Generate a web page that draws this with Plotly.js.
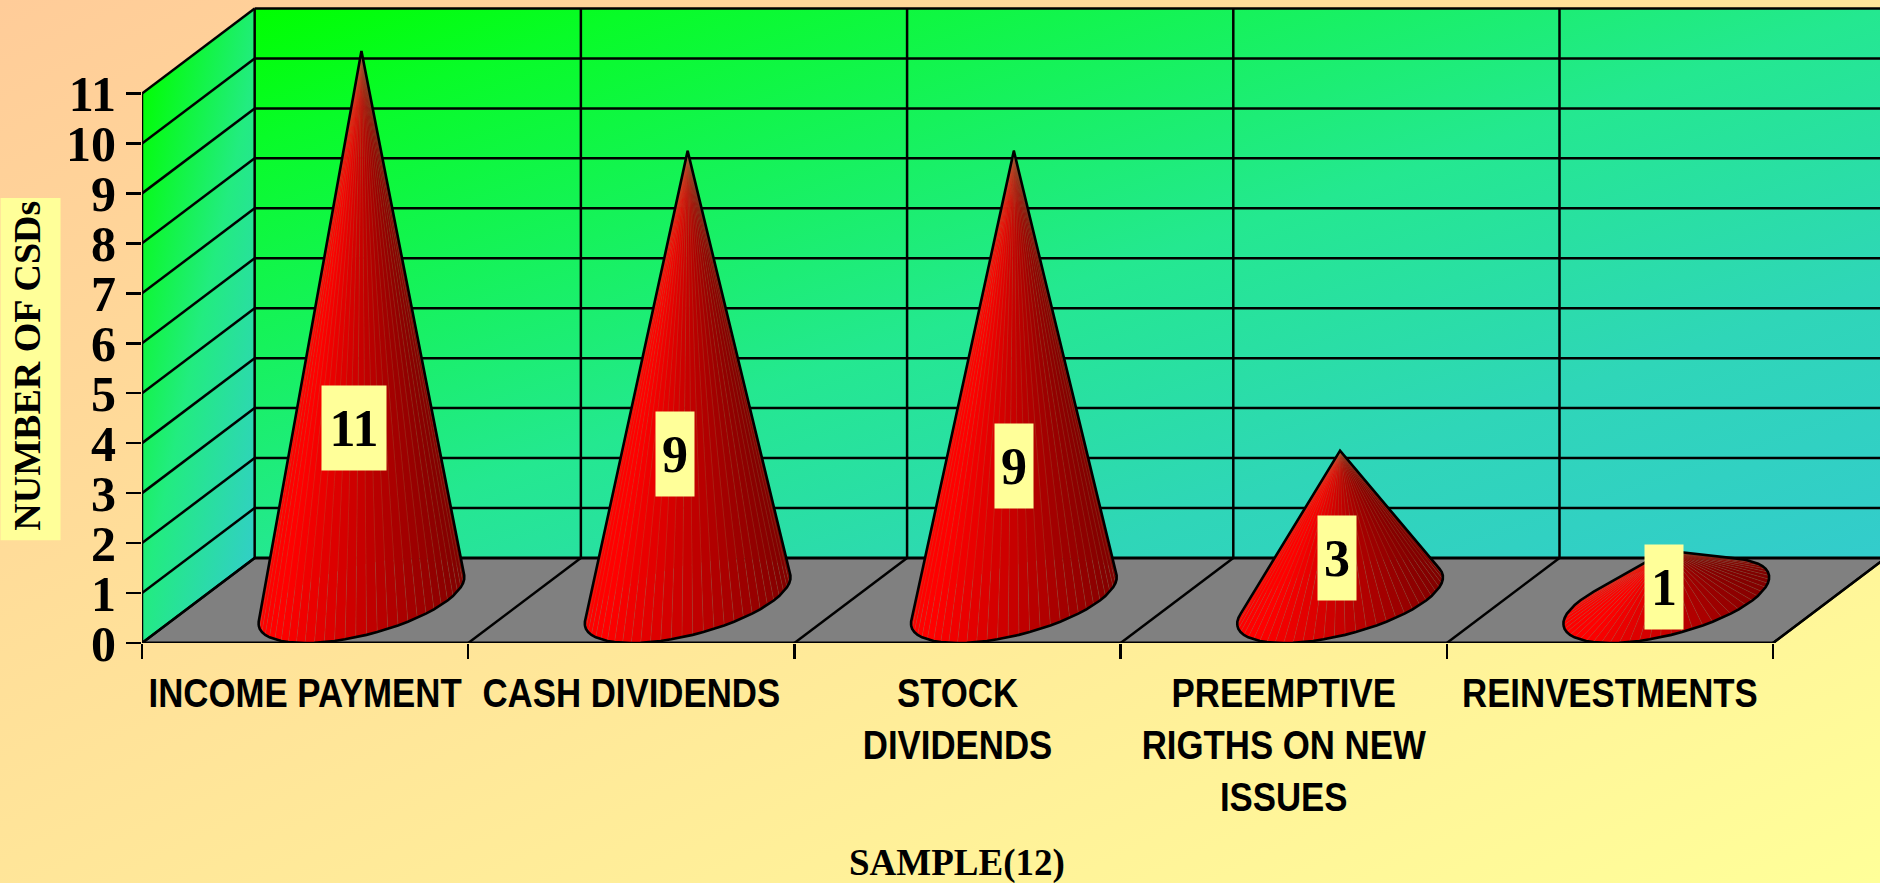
<!DOCTYPE html>
<html>
<head>
<meta charset="utf-8">
<script src="https://cdn.plot.ly/plotly-3.0.1.min.js"></script>
<style>
html,body{margin:0;padding:0;width:1880px;height:883px;overflow:hidden;
background:linear-gradient(to bottom right,#FFCC99,#FFFF99);}
#chart{width:1880px;height:883px;}
</style>
</head>
<body>
<div id="chart"></div>
<script>
var categories = ["INCOME PAYMENT","CASH DIVIDENDS","STOCK<br>DIVIDENDS","PREEMPTIVE<br>RIGTHS ON NEW<br>ISSUES","REINVESTMENTS"];
var values = [11,9,9,3,1];
var yTicks = [0,1,2,3,4,5,6,7,8,9,10,11];
var yTitle = "NUMBER OF CSDs";
var xTitle = "SAMPLE(12)";

// plot geometry
var W=1880,H=883,ML=141.5,PH=642.7,CATPX=326.3,UNITPX=49.93;
var XMAX=(W-ML)/CATPX, YMAX=PH/UNITPX;
var DU=112.7/CATPX, DV=85/UNITPX;   // oblique depth offset in axis units
var RU=0.264, NSEG=60, YTOP=11, NCAT=categories.length;
var LW=2.5;
var SERIF='"Liberation Serif","Times New Roman",serif';
var SANS='"Liberation Sans",Arial,sans-serif';

var traces=[];
function line(xs,ys,w){
  traces.push({type:'scatter',mode:'lines',x:xs,y:ys,line:{color:'#000',width:w||LW},
    hoverinfo:'skip',showlegend:false,cliponaxis:false});
}
// floor
traces.push({type:'scatter',mode:'lines',x:[0,NCAT,NCAT+DU,DU,0],y:[0,0,DV,DV,0],fill:'toself',
  fillcolor:'#808080',line:{width:0},hoverinfo:'skip',showlegend:false});
// back wall grid
yTicks.forEach(function(v){ line([DU,NCAT+DU],[v+DV,v+DV], v===0?3:LW); line([0,DU],[v,v+DV]); });
for(var c=0;c<=NCAT;c++){ line([c,c+DU],[0,DV]); line([c+DU,c+DU],[DV,YTOP+DV]); }
line([0,NCAT],[0,0],3);      // front floor edge
line([0,0],[0,YTOP],2.5);    // value axis
line([NCAT,NCAT+DU],[0,DV]);

function hull(pts){
  var p=pts.slice().sort(function(a,b){return a[0]-b[0]||a[1]-b[1];});
  function cross(o,a,b){return (a[0]-o[0])*(b[1]-o[1])-(a[1]-o[1])*(b[0]-o[0]);}
  var lo=[],up=[];
  p.forEach(function(q){while(lo.length>1&&cross(lo[lo.length-2],lo[lo.length-1],q)<=0)lo.pop();lo.push(q);});
  p.slice().reverse().forEach(function(q){while(up.length>1&&cross(up[up.length-2],up[up.length-1],q)<=0)up.pop();up.push(q);});
  lo.pop();up.pop();
  var h=lo.concat(up);h.push(h[0]);return h;
}
// cones built from the values
values.forEach(function(val,ci){
  var cu=ci+0.5+DU/2, cv=DV/2, apex=[cu,val+cv], base=[];
  for(var i=0;i<NSEG;i++){
    var t=2*Math.PI*i/NSEG;
    base.push([cu+RU*Math.cos(t)+DU/2*Math.sin(t), cv+DV/2*Math.sin(t)]);
  }
  var umin=Math.min.apply(null,base.map(function(b){return b[0];}));
  var umax=Math.max.apply(null,base.map(function(b){return b[0];}));
  var slices=[];
  for(var k=0;k<NSEG;k++){
    var a=base[k],b=base[(k+1)%NSEG];
    slices.push({a:a,b:b,mv:(a[1]+b[1])/2,mu:(a[0]+b[0])/2});
  }
  slices.sort(function(p,q){return q.mv-p.mv;});
  slices.forEach(function(s){
    var f=(s.mu-umin)/(umax-umin);
    var r=f<0.1?255:Math.round(255-(f-0.1)/0.9*127);
    traces.push({type:'scatter',mode:'lines',x:[s.a[0],s.b[0],apex[0],s.a[0]],y:[s.a[1],s.b[1],apex[1],s.a[1]],
      fill:'toself',fillcolor:'rgb('+r+',0,0)',line:{color:'rgba(150,150,90,0.25)',width:0.6},
      hoverinfo:'skip',showlegend:false});
  });
  var h=hull(base.concat([apex]));
  line(h.map(function(p){return p[0];}),h.map(function(p){return p[1];}),2.6);
});

function grad(stops,x1,y1,x2,y2,shape){
  var svg='<svg xmlns="http://www.w3.org/2000/svg" viewBox="0 0 100 100" preserveAspectRatio="none"><defs><linearGradient id="g" x1="'+x1+'" y1="'+y1+'" x2="'+x2+'" y2="'+y2+'">'+
    stops.map(function(s){return '<stop offset="'+s[0]+'" stop-color="'+s[1]+'"/>';}).join('')+
    '</linearGradient></defs>'+shape+'</svg>';
  return 'data:image/svg+xml;charset=utf-8,'+encodeURIComponent(svg);
}
var sideShape='<polygon points="0,'+(100*DV/(YTOP+DV))+' 100,0 100,'+(100*YTOP/(YTOP+DV))+' 0,100" fill="url(#g)"/>';
var images=[
  {source:grad([[0,'#00FF00'],[0.12,'#08FC28'],[0.5,'#24E890'],[0.75,'#2FD6B8'],[1,'#33CCCC']],0,0,1,1,'<rect width="100" height="100" fill="url(#g)"/>'),
   xref:'x',yref:'y',x:DU,y:YTOP+DV,sizex:NCAT,sizey:YTOP,xanchor:'left',yanchor:'top',sizing:'stretch',layer:'below'},
  {source:grad([[0,'#00FF00'],[0.5,'#22EC80'],[1,'#33CCCC']],0,0.1,0.82,1.08,sideShape),
   xref:'x',yref:'y',x:0,y:YTOP+DV,sizex:DU,sizey:YTOP+DV,xanchor:'left',yanchor:'top',sizing:'stretch',layer:'below'}
];

var labelYFrac=0.3;
var nudgeX=[-7,-13,0,-3,-2], nudgeY=[8,12,0,-2,-2];
var annotations=values.map(function(val,i){
  return {xref:'x',yref:'y',x:i+0.5+DU/2,y:DV/2+val*labelYFrac,text:String(val),showarrow:false,
    xshift:nudgeX[i],yshift:nudgeY[i],xanchor:'center',yanchor:'middle',
    width:String(val).length>1?64:38,height:84,bgcolor:'#FFFF99',borderpad:0,align:'center',valign:'middle',
    font:{family:SERIF,size:52,color:'#000',weight:700}};
});
function paperX(px){return (px-ML)/(W-ML);}
function paperY(py){return (PH-py)/PH;}
annotations.push({xref:'paper',yref:'paper',x:paperX(27),y:paperY(366),text:yTitle,textangle:-90,showarrow:false,
  xanchor:'center',yanchor:'middle',
  font:{family:SERIF,size:38,color:'#000',weight:700}});
annotations.push({xref:'paper',yref:'paper',x:paperX(957),y:paperY(863),text:xTitle,showarrow:false,
  xanchor:'center',yanchor:'middle',
  font:{family:SERIF,size:37,color:'#000',weight:700}});
var shapes=[{type:'rect',xref:'paper',yref:'paper',x0:paperX(0),x1:paperX(60),y0:paperY(540),y1:paperY(198),
  fillcolor:'#FFFF99',line:{width:0},layer:'below'}];

var layout={
  width:W,height:H,margin:{l:ML,r:0,t:0,b:H-PH,pad:0},
  paper_bgcolor:'rgba(0,0,0,0)',plot_bgcolor:'rgba(0,0,0,0)',showlegend:false,
  xaxis:{range:[0,XMAX],showgrid:false,zeroline:false,showline:false,
    tickmode:'array',tickvals:categories.map(function(_,i){return i+0.5;}),ticktext:categories,
    ticks:'outside',ticklen:15,tickwidth:0,tickcolor:'rgba(0,0,0,0)',tickangle:0,
    tickfont:{family:SANS,size:40,color:'#000',weight:700},
    minor:{tickmode:'array',tickvals:[0,1,2,3,4,5],ticks:'outside',ticklen:15,tickwidth:2.5,tickcolor:'#000',showgrid:false}},
  yaxis:{range:[0,YMAX],showgrid:false,zeroline:false,showline:false,
    tickmode:'array',tickvals:yTicks,ticktext:yTicks.map(String),
    ticks:'outside',ticklen:15,tickwidth:2.5,tickcolor:'#000',
    tickfont:{family:SERIF,size:50,color:'#000',weight:700}},
  images:images,annotations:annotations,shapes:shapes
};
Plotly.newPlot('chart',traces,layout,{displayModeBar:false,staticPlot:true}).then(function(){
  // narrow the category labels horizontally, as in the condensed face of the original
  var gd=document.getElementById('chart');
  gd.querySelectorAll('.xtick text').forEach(function(t){
    var x=parseFloat(t.getAttribute('x'))||0, tr=t.getAttribute('transform')||'';
    t.setAttribute('transform',tr+' translate('+x+',0) scale(0.87,1) translate('+(-x)+',0)');
  });
});
</script>
</body>
</html>
